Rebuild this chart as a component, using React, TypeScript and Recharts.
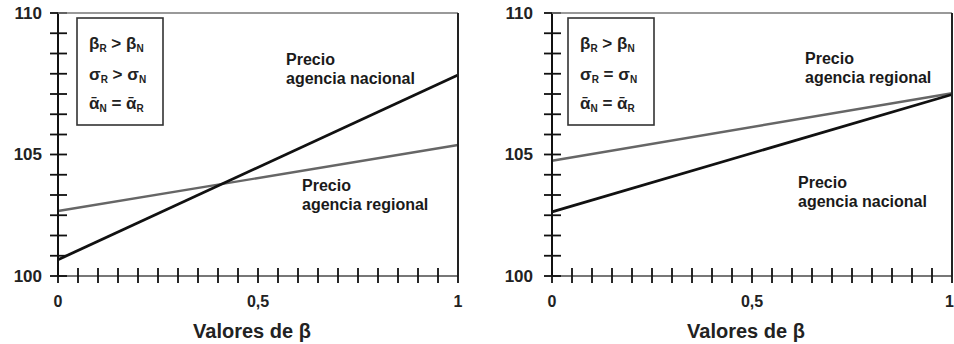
import { ComposedChart, Line, Scatter, XAxis, YAxis } from 'recharts';

const betas = [0, 1];

// left panel
const leftNacional = [100.62, 107.64];
const leftRegional = [102.47, 104.98];

// right panel
const rightRegional = [104.38, 106.95];
const rightNacional = [102.44, 106.9];

const xTicks = [0, 0.05, 0.1, 0.15, 0.2, 0.25, 0.3, 0.35, 0.4, 0.45, 0.5, 0.55, 0.6, 0.65, 0.7, 0.75, 0.8, 0.85, 0.9, 0.95, 1];
const xTickLabels: Record<string, string> = { '0': '0', '0.5': '0,5', '1': '1' };

// ticks as drawn in the figure (13 equal steps between 100 and 110)
const yTicks = [100, 100.77, 101.54, 102.31, 103.08, 103.85, 104.62, 105.38, 106.15, 106.92, 107.69, 108.46, 109.23, 110];
const yTickLabels: Record<string, string> = { '100': '100', '104.62': '105', '110': '110' };

const FONT = '"Liberation Sans", Arial, sans-serif';

const leftData = betas.map((b, i) => ({ b, nacional: leftNacional[i], regional: leftRegional[i] }));
const rightData = betas.map((b, i) => ({ b, nacional: rightNacional[i], regional: rightRegional[i] }));
// tick marks crossing the x axis, placed with the chart's own scales
const xTickMarks = xTicks.map((b) => ({ b, mark: 100 }));

function TickMark(props: any) {
  const cx = Number(props.cx);
  const cy = Number(props.cy);
  return <rect x={cx - 0.9} y={cy - 8} width={1.8} height={15} fill="#111" />;
}

function xTickLabel(props: any, lastAnchorEnd: boolean) {
  const x = Number(props.x);
  const y = Number(props.y);
  const v = props.payload?.value;
  const label = xTickLabels[String(v)];
  if (!label) return <g />;
  const atEnd = lastAnchorEnd && v === 1;
  return (
    <text
      x={atEnd ? x + 2 : x}
      y={y + 31}
      textAnchor={atEnd ? 'end' : 'middle'}
      fontSize={16}
      fontWeight="bold"
      fill="#222"
      fontFamily={FONT}
    >
      {label}
    </text>
  );
}

function yTickMark(props: any, gap: number) {
  const x = Number(props.x);
  const y = Number(props.y);
  const label = yTickLabels[String(props.payload?.value)];
  return (
    <g>
      <rect x={x - 8} y={y - 0.9} width={17} height={1.8} fill="#111" />
      {label && (
        <text x={x - gap} y={y + 6} textAnchor="end" fontSize={17} fontWeight="bold" fill="#222" fontFamily={FONT}>
          {label}
        </text>
      )}
    </g>
  );
}

function CondLine({ x, y, a, sa, rel, b, sb }: any) {
  return (
    <text x={x} y={y} fontSize={17} fontWeight="bold" fill="#222" fontFamily={FONT}>
      <tspan>{a}</tspan>
      <tspan dy={3} fontSize={10}>{sa}</tspan>
      <tspan dy={-3}>{` ${rel} ${b}`}</tspan>
      <tspan dy={3} fontSize={10}>{sb}</tspan>
    </text>
  );
}

function ConditionBox({ x, rel2 }: { x: number; rel2: string }) {
  const tx = x + 12;
  return (
    <g>
      <rect x={x} y={18} width={86} height={107} fill="#fff" stroke="#333" strokeWidth={1.6} />
      <CondLine x={tx} y={49} a="β" sa="R" rel=">" b="β" sb="N" />
      <CondLine x={tx} y={80} a="σ" sa="R" rel={rel2} b="σ" sb="N" />
      <CondLine x={tx} y={109} a="ᾱ" sa="N" rel="=" b="ᾱ" sb="R" />
    </g>
  );
}

function Note({ x, y, line2 }: { x: number; y: number; line2: string }) {
  const s = { fontSize: 16, fontWeight: 'bold' as const, fill: '#1a1a1a', fontFamily: FONT };
  return (
    <g>
      <text x={x} y={y} {...s}>Precio</text>
      <text x={x} y={y + 19} {...s}>{line2}</text>
    </g>
  );
}

function Panel({ data, yWidth, right, side }: any) {
  const isLeft = side === 'left';
  return (
    <ComposedChart width={477} height={344} data={data} margin={{ top: 13, right, bottom: 0, left: 0 }}>
      <XAxis
        dataKey="b"
        type="number"
        domain={[0, 1]}
        ticks={xTicks}
        interval={0}
        height={68}
        tickSize={0}
        tickMargin={0}
        tickLine={false}
        tick={(p: any) => xTickLabel(p, !isLeft)}
        axisLine={{ stroke: '#777', strokeWidth: 2 }}
        label={{ value: 'Valores de β', position: 'insideBottom', offset: 6, dx: -6, fontSize: 20, fontWeight: 'bold', fill: '#222', fontFamily: FONT }}
      />
      <YAxis
        type="number"
        domain={[100, 110]}
        ticks={yTicks}
        interval={0}
        width={yWidth}
        tickSize={0}
        tickMargin={0}
        tickLine={false}
        tick={(p: any) => yTickMark(p, isLeft ? 16 : 19)}
        axisLine={{ stroke: '#111', strokeWidth: 2 }}
      />
      <Line type="linear" dataKey="regional" stroke="#666" strokeWidth={2.4} dot={false} isAnimationActive={false} />
      <Line type="linear" dataKey="nacional" stroke="#111" strokeWidth={2.8} dot={false} isAnimationActive={false} />
      <Scatter data={xTickMarks} dataKey="mark" shape={(p: any) => <TickMark {...p} />} isAnimationActive={false} />
    </ComposedChart>
  );
}

export default function App() {
  return (
    <div style={{ position: 'fixed', left: 0, top: 0, width: 954, height: 344, background: '#fff', overflow: 'hidden' }}>
      <div style={{ position: 'absolute', left: 0, top: 0 }}>
        <Panel data={leftData} yWidth={58} right={19} side="left" />
      </div>
      <div style={{ position: 'absolute', left: 477, top: 0 }}>
        <Panel data={rightData} yWidth={75} right={2} side="right" />
      </div>
      {/* frame lines, condition boxes and annotations */}
      <svg width={954} height={344} style={{ position: 'absolute', left: 0, top: 0, pointerEvents: 'none' }}>
        <line x1={58} x2={458} y1={13} y2={13} stroke="#777" strokeWidth={1.6} />
        <line x1={458} x2={458} y1={13} y2={276} stroke="#222" strokeWidth={2} />
        <line x1={552} x2={952} y1={13} y2={13} stroke="#777" strokeWidth={1.6} />
        <line x1={952} x2={952} y1={13} y2={276} stroke="#222" strokeWidth={2} />
        <ConditionBox x={77} rel2=">" />
        <ConditionBox x={568} rel2="=" />
        <Note x={286} y={65} line2="agencia nacional" />
        <Note x={302} y={191} line2="agencia regional" />
        <Note x={805} y={64} line2="agencia regional" />
        <Note x={798} y={188} line2="agencia nacional" />
      </svg>
    </div>
  );
}
